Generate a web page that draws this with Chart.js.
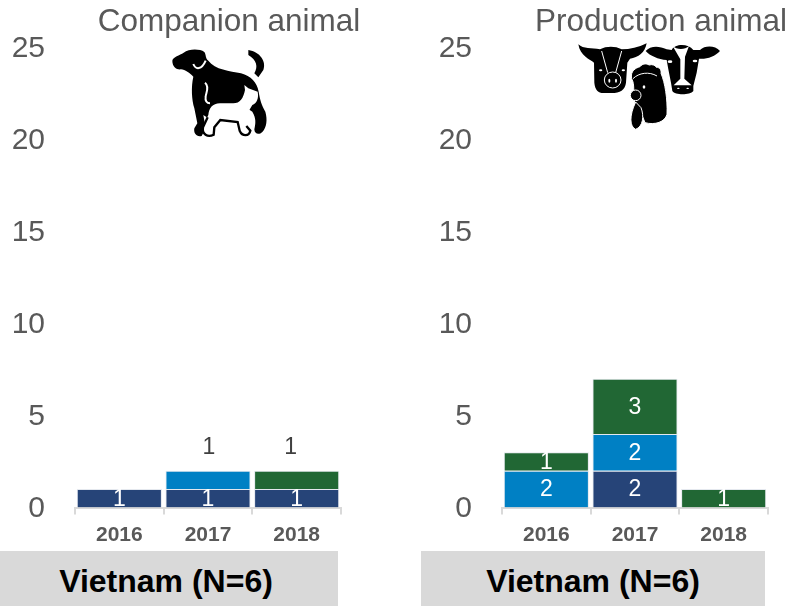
<!DOCTYPE html>
<html>
<head>
<meta charset="utf-8">
<script src="https://cdn.jsdelivr.net/npm/chart.js@4"></script>
<style>
  html, body { margin: 0; padding: 0; background: #fff; }
  body { position: relative; width: 790px; height: 606px; overflow: hidden; font-family: "Liberation Sans", Arial, sans-serif; }
  canvas { position: absolute; top: 0; }
  svg { position: absolute; }
  .title { position: absolute; top: 2px; font-size: 31.5px; line-height: 36px; color: #595959; white-space: nowrap; transform: translateX(-50%); }
  .box { position: absolute; top: 551px; height: 55px; line-height: 60px; background: #d9d9d9; color: #000; font-size: 32px; font-weight: bold; text-align: center; }
</style>
</head>
<body>
<canvas id="companion" width="363" height="551" style="left:0"></canvas>
<canvas id="production" width="363" height="551" style="left:427px"></canvas>

<div class="title" style="left:229px">Companion animal</div>
<div class="title" style="left:661px">Production animal</div>
<div class="box" style="left:0;width:332px;padding-right:6px">Vietnam (N=6)</div>
<div class="box" style="left:421px;width:344px">Vietnam (N=6)</div>

<!-- dog and cat -->
<svg style="left:165px;top:40px" width="110" height="100" viewBox="0 0 330 300">
  <path d="M22,62 C24,50 44,46 56,38 C72,26 104,26 118,36 C124,44 120,55 130,62 C150,90 195,92 228,100 C258,108 276,128 281,155 C285,180 290,195 301,215 C308,240 305,262 292,276 C282,286 268,282 268,268 C272,250 274,235 262,215 L240,200 L130,235 L115,225 L122,265 L110,288 C95,292 85,280 88,265 L97,250 L88,205 C80,180 78,140 85,110 C75,100 60,88 48,88 C35,90 22,80 22,62 Z"/>
  <path d="M250,30 C285,35 305,65 295,90 L280,112 L268,100 C280,80 275,60 250,45 Z"/>
  <path d="M85,72 C92,90 110,90 122,62" fill="none" stroke="#fff" stroke-width="6"/>
  <path d="M120,128 C135,140 122,160 122,170 C120,182 125,190 135,190" fill="none" stroke="#fff" stroke-width="6"/>
  <path d="M240,150 L238,135 L250,145 L278,155 C282,175 275,190 262,195 L250,215 L248,245 L240,262 L250,272 C250,285 235,282 228,275 L218,240 L165,235 L140,262 L145,280 C135,290 115,285 115,270 L118,250 L130,225 C132,205 142,190 165,190 L205,190 C225,190 235,175 240,150 Z" fill="#fff"/>
  <path d="M128,232 L114,262 C110,282 128,294 146,284 L148,262 L166,240 L218,246 L224,272 C232,290 252,290 256,272 L244,258" fill="none" stroke="#000" stroke-width="7"/>
</svg>

<!-- pig -->
<svg style="left:570px;top:36px" width="80" height="70" viewBox="0 0 240 210">
  <path d="M25,25 C40,40 65,35 90,40 C110,30 135,30 155,40 C180,40 205,35 230,22 C225,50 205,65 180,68 L172,80 L168,140 C165,162 150,171 125,171 L100,171 C85,171 75,162 73,140 L72,80 C60,70 30,60 25,25 Z"/>
  <path d="M95,45 L113,110 M155,45 L137,110" fill="none" stroke="#fff" stroke-width="3"/>
  <ellipse cx="128" cy="132" rx="25" ry="24" stroke="#fff" stroke-width="3"/>
  <ellipse cx="118" cy="134" rx="3" ry="6" fill="#fff"/>
  <ellipse cx="138" cy="134" rx="3" ry="6" fill="#fff"/>
  <ellipse cx="92" cy="103" rx="5" ry="3" fill="#fff"/>
  <ellipse cx="160" cy="103" rx="5" ry="3" fill="#fff"/>
</svg>

<!-- cow and rooster -->
<svg style="left:625px;top:36px" width="100" height="100" viewBox="0 0 300 300">
  <path d="M62,45 C75,30 100,28 125,40 L140,42 C150,22 190,22 205,42 L225,42 C240,28 270,28 285,45 C270,62 245,70 222,68 L215,110 L205,150 L205,165 C195,178 150,178 142,165 L138,140 L130,100 L125,72 C100,70 75,60 62,45 Z"/>
  <path d="M143,30 C155,42 180,42 192,30 L180,62 L178,128 L200,148 L146,148 L166,128 L166,70 Z" fill="#fff"/>
  <ellipse cx="135" cy="77" rx="7" ry="4" fill="#fff"/>
  <ellipse cx="210" cy="75" rx="7" ry="4" fill="#fff"/>
  <ellipse cx="160" cy="157" rx="4" ry="2" fill="#fff"/>
  <ellipse cx="188" cy="157" rx="4" ry="2" fill="#fff"/>
  <path d="M20,128 C15,105 32,96 45,92 C52,82 66,82 72,87 C82,84 92,88 94,94 C104,94 110,102 108,112 C120,140 128,190 126,235 C120,258 90,268 60,260 L52,240 C44,225 30,210 28,195 C24,170 30,145 20,128 Z" stroke="#fff" stroke-width="3"/>
  <path d="M32,198 L48,215 C58,240 54,272 32,280 C14,272 12,240 32,198 Z" stroke="#fff" stroke-width="3"/>
  <circle cx="32" cy="178" r="16" stroke="#fff" stroke-width="3"/>
  <path d="M24,128 C42,110 72,106 96,120" fill="none" stroke="#fff" stroke-width="3"/>
  <ellipse cx="57" cy="153" rx="4" ry="5" fill="#fff"/>
</svg>

<script>
const years = ['2016', '2017', '2018'];
const yTicks = [0, 5, 10, 15, 20, 25];

const companionNavy = [1, 1, 1];
const companionBlue = [null, 1, null];
const companionGreen = [null, null, 1];

const productionNavy = [null, 2, null];
const productionBlue = [2, 2, null];
const productionGreen = [1, 3, 1];

const NAVY = '#264478';
const BLUE = '#0080c4';
const GREEN = '#216734';

// white numbers centred in each segment, some sit above the stack in dark grey
const segmentLabels = {
  id: 'segmentLabels',
  afterDatasetsDraw(chart, args, opts) {
    const ctx = chart.ctx;
    ctx.save();
    ctx.font = '23px "Liberation Sans"';
    ctx.textAlign = 'center';
    ctx.textBaseline = 'middle';
    chart.data.datasets.forEach((ds, i) => {
      chart.getDatasetMeta(i).data.forEach((bar, j) => {
        if (ds.data[j] == null) return;
        const moved = (opts.moved || []).find(m => m.dataset === i && m.index === j);
        if (moved) {
          ctx.fillStyle = '#404040';
          ctx.fillText(ds.data[j], bar.x + moved.dx, bar.y - 23);
        } else {
          ctx.fillStyle = '#fff';
          ctx.fillText(ds.data[j], bar.x, (bar.y + bar.base) / 2 + 1);
        }
      });
    });
    ctx.restore();
  }
};

function stackedChart(id, navy, blue, green, moved) {
  const segment = (data, color) => ({
    data: data,
    backgroundColor: color,
    borderColor: '#e4e8ee',
    borderWidth: 1,
    barPercentage: 0.96,
    categoryPercentage: 1
  });
  return new Chart(document.getElementById(id), {
    type: 'bar',
    data: {
      labels: years,
      datasets: [segment(navy, NAVY), segment(blue, BLUE), segment(green, GREEN)]
    },
    plugins: [segmentLabels],
    options: {
      responsive: false,
      animation: false,
      layout: { padding: { top: 48, right: 22, left: 0, bottom: 0 } },
      plugins: {
        legend: { display: false },
        title: { display: false },
        tooltip: { enabled: false },
        segmentLabels: { moved: moved }
      },
      scales: {
        x: {
          stacked: true,
          afterFit(axis) { axis.height = 43.5; },
          border: { color: '#d9d9d9', width: 2 },
          grid: { drawOnChartArea: false, drawTicks: true, tickLength: 7, color: '#d9d9d9', lineWidth: 2 },
          ticks: { color: '#595959', padding: 8, font: { family: 'Liberation Sans', size: 21, weight: 'bold' } }
        },
        y: {
          stacked: true,
          min: 0,
          max: 25,
          afterFit(axis) { axis.width = 75; },
          afterBuildTicks(axis) { axis.ticks = yTicks.map(v => ({ value: v })); },
          border: { display: false },
          grid: { display: false },
          ticks: { color: '#595959', padding: 22, labelOffset: 1, font: { family: 'Liberation Sans', size: 30 } }
        }
      }
    }
  });
}

stackedChart('companion', companionNavy, companionBlue, companionGreen,
  [{ dataset: 1, index: 1, dx: 1 }, { dataset: 2, index: 2, dx: -6 }]);
stackedChart('production', productionNavy, productionBlue, productionGreen, []);
</script>
</body>
</html>
